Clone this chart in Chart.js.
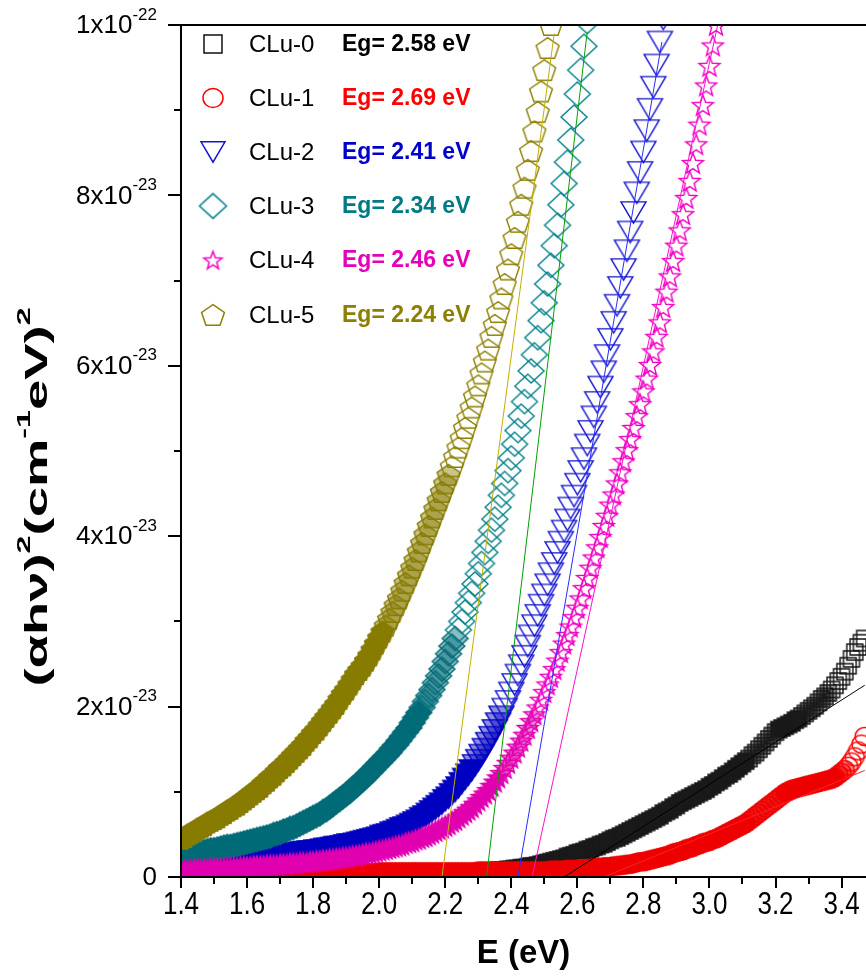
<!DOCTYPE html>
<html>
<head>
<meta charset="utf-8">
<title>Tauc plot</title>
<script src="https://cdn.jsdelivr.net/npm/chart.js@4.4.1/dist/chart.umd.min.js"></script>
<style>
html, body { margin: 0; padding: 0; background: #fff; overflow: hidden; }
#wrap { width: 866px; height: 978px; }
#plot { display: block; }
</style>
</head>
<body>
<div id="wrap"><canvas id="plot" width="866" height="978"></canvas></div>
<script>
// photon energy grid (eV)
var energy = [
  1.40,1.41,1.42,1.43,1.44,1.45,1.46,1.47,1.48,1.49,
  1.50,1.51,1.52,1.53,1.54,1.55,1.56,1.57,1.58,1.59,
  1.60,1.61,1.62,1.63,1.64,1.65,1.66,1.67,1.68,1.69,
  1.70,1.71,1.72,1.73,1.74,1.75,1.76,1.77,1.78,1.79,
  1.80,1.81,1.82,1.83,1.84,1.85,1.86,1.87,1.88,1.89,
  1.90,1.91,1.92,1.93,1.94,1.95,1.96,1.97,1.98,1.99,
  2.00,2.01,2.02,2.03,2.04,2.05,2.06,2.07,2.08,2.09,
  2.10,2.11,2.12,2.13,2.14,2.15,2.16,2.17,2.18,2.19,
  2.20,2.21,2.22,2.23,2.24,2.25,2.26,2.27,2.28,2.29,
  2.30,2.31,2.32,2.33,2.34,2.35,2.36,2.37,2.38,2.39,
  2.40,2.41,2.42,2.43,2.44,2.45,2.46,2.47,2.48,2.49,
  2.50,2.51,2.52,2.53,2.54,2.55,2.56,2.57,2.58,2.59,
  2.60,2.61,2.62,2.63,2.64,2.65,2.66,2.67,2.68,2.69,
  2.70,2.71,2.72,2.73,2.74,2.75,2.76,2.77,2.78,2.79,
  2.80,2.81,2.82,2.83,2.84,2.85,2.86,2.87,2.88,2.89,
  2.90,2.91,2.92,2.93,2.94,2.95,2.96,2.97,2.98,2.99,
  3.00,3.01,3.02,3.03,3.04,3.05,3.06,3.07,3.08,3.09,
  3.10,3.11,3.12,3.13,3.14,3.15,3.16,3.17,3.18,3.19,
  3.20,3.21,3.22,3.23,3.24,3.25,3.26,3.27,3.28,3.29,
  3.30,3.31,3.32,3.33,3.34,3.35,3.36,3.37,3.38,3.39,
  3.40,3.41,3.42,3.43,3.44,3.45,3.46,3.47
];

// (alpha h nu)^2 in units of 1e-23 (cm^-1 eV)^2, one value per energy step
var clu0 = [
  0.03,0.03,0.03,0.03,0.03,0.03,0.03,0.03,0.03,0.03,
  0.03,0.03,0.03,0.03,0.03,0.03,0.03,0.03,0.03,0.03,
  0.03,0.03,0.03,0.03,0.03,0.03,0.03,0.03,0.03,0.03,
  0.04,0.04,0.04,0.04,0.04,0.04,0.04,0.04,0.04,0.04,
  0.04,0.04,0.04,0.04,0.04,0.04,0.04,0.04,0.04,0.04,
  0.04,0.04,0.04,0.04,0.04,0.04,0.04,0.04,0.04,0.04,
  0.04,0.04,0.04,0.04,0.04,0.04,0.04,0.04,0.04,0.04,
  0.05,0.05,0.05,0.05,0.05,0.05,0.05,0.05,0.05,0.05,
  0.05,0.05,0.05,0.05,0.05,0.05,0.05,0.05,0.05,0.05,
  0.06,0.06,0.06,0.07,0.07,0.07,0.08,0.08,0.08,0.09,
  0.09,0.10,0.10,0.11,0.11,0.12,0.13,0.13,0.14,0.15,
  0.16,0.17,0.18,0.19,0.20,0.21,0.22,0.24,0.25,0.26,
  0.28,0.29,0.30,0.32,0.33,0.35,0.36,0.38,0.39,0.41,
  0.43,0.45,0.46,0.48,0.50,0.52,0.54,0.56,0.58,0.60,
  0.62,0.64,0.66,0.68,0.70,0.72,0.75,0.77,0.79,0.82,
  0.84,0.87,0.89,0.91,0.93,0.95,0.97,0.99,1.01,1.03,
  1.06,1.08,1.11,1.13,1.16,1.19,1.21,1.24,1.27,1.30,
  1.33,1.36,1.39,1.43,1.46,1.50,1.54,1.58,1.62,1.66,
  1.70,1.73,1.75,1.77,1.79,1.81,1.84,1.86,1.89,1.92,
  1.95,1.98,2.01,2.05,2.09,2.12,2.16,2.20,2.25,2.30,
  2.35,2.41,2.48,2.56,2.64,2.70,2.75,2.80
];
var clu1 = [
  0.04,0.04,0.04,0.04,0.04,0.04,0.04,0.04,0.04,0.04,
  0.04,0.04,0.04,0.04,0.04,0.04,0.04,0.04,0.04,0.04,
  0.04,0.04,0.04,0.04,0.04,0.04,0.04,0.04,0.04,0.04,
  0.05,0.05,0.05,0.05,0.05,0.05,0.05,0.05,0.05,0.05,
  0.05,0.05,0.05,0.05,0.05,0.05,0.05,0.05,0.05,0.05,
  0.05,0.05,0.05,0.05,0.05,0.05,0.05,0.05,0.05,0.05,
  0.06,0.06,0.06,0.06,0.06,0.06,0.06,0.06,0.06,0.06,
  0.06,0.06,0.06,0.06,0.06,0.06,0.06,0.06,0.06,0.06,
  0.06,0.06,0.06,0.06,0.06,0.06,0.06,0.06,0.06,0.06,
  0.07,0.07,0.07,0.07,0.07,0.07,0.07,0.07,0.07,0.07,
  0.07,0.07,0.07,0.07,0.07,0.07,0.07,0.07,0.07,0.07,
  0.07,0.07,0.08,0.08,0.08,0.08,0.08,0.09,0.09,0.09,
  0.09,0.10,0.10,0.10,0.10,0.11,0.11,0.11,0.12,0.12,
  0.12,0.13,0.13,0.14,0.14,0.15,0.15,0.16,0.17,0.18,
  0.18,0.19,0.20,0.21,0.22,0.23,0.24,0.25,0.26,0.28,
  0.29,0.30,0.31,0.33,0.34,0.35,0.37,0.38,0.40,0.41,
  0.42,0.44,0.45,0.47,0.49,0.51,0.53,0.55,0.57,0.59,
  0.61,0.63,0.66,0.69,0.72,0.75,0.78,0.81,0.84,0.87,
  0.90,0.93,0.96,0.99,1.01,1.03,1.04,1.05,1.06,1.07,
  1.08,1.09,1.10,1.11,1.12,1.13,1.14,1.15,1.17,1.20,
  1.23,1.26,1.30,1.35,1.41,1.48,1.56,1.65
];
var clu2 = [
  0.17,0.17,0.17,0.18,0.18,0.18,0.18,0.18,0.19,0.19,
  0.19,0.19,0.20,0.20,0.20,0.20,0.21,0.21,0.21,0.22,
  0.22,0.22,0.23,0.23,0.23,0.24,0.24,0.24,0.25,0.25,
  0.26,0.26,0.26,0.27,0.27,0.28,0.28,0.29,0.29,0.30,
  0.30,0.31,0.31,0.32,0.33,0.33,0.34,0.35,0.35,0.36,
  0.37,0.38,0.38,0.39,0.40,0.41,0.42,0.43,0.44,0.45,
  0.46,0.48,0.49,0.50,0.52,0.53,0.55,0.57,0.58,0.60,
  0.62,0.64,0.66,0.69,0.71,0.74,0.77,0.80,0.83,0.86,
  0.90,0.93,0.97,1.01,1.05,1.10,1.15,1.20,1.25,1.31,
  1.37,1.43,1.50,1.57,1.64,1.72,1.80,1.88,1.97,2.06,
  2.16,2.26,2.37,2.48,2.59,2.71,2.83,2.95,3.07,3.19,
  3.31,3.43,3.56,3.68,3.81,3.93,4.06,4.19,4.33,4.47,
  4.61,4.76,4.91,5.07,5.23,5.40,5.57,5.75,5.93,6.12,
  6.31,6.51,6.71,6.92,7.13,7.35,7.57,7.80,8.03,8.27,
  8.51,8.76,9.01,9.27,9.53,9.80,10.07
];
var clu3 = [
  0.26,0.27,0.27,0.28,0.28,0.29,0.30,0.30,0.31,0.32,
  0.32,0.33,0.34,0.35,0.36,0.36,0.37,0.38,0.39,0.40,
  0.41,0.42,0.43,0.44,0.45,0.46,0.47,0.48,0.50,0.51,
  0.52,0.54,0.55,0.57,0.58,0.60,0.62,0.64,0.66,0.68,
  0.70,0.72,0.74,0.77,0.79,0.82,0.85,0.88,0.91,0.94,
  0.97,1.00,1.04,1.07,1.11,1.14,1.18,1.22,1.26,1.30,
  1.34,1.38,1.42,1.46,1.51,1.55,1.60,1.65,1.70,1.75,
  1.81,1.87,1.93,1.99,2.06,2.13,2.20,2.28,2.36,2.44,
  2.53,2.62,2.71,2.80,2.90,3.00,3.11,3.22,3.33,3.44,
  3.56,3.68,3.81,3.94,4.07,4.20,4.34,4.48,4.62,4.77,
  4.92,5.08,5.24,5.41,5.58,5.76,5.94,6.13,6.33,6.53,
  6.74,6.96,7.18,7.41,7.65,7.89,8.14,8.39,8.65,8.92,
  9.19,9.47,9.75,10.04,10.33
];
var clu4 = [
  0.08,0.08,0.08,0.08,0.09,0.09,0.09,0.09,0.09,0.10,
  0.10,0.10,0.10,0.10,0.11,0.11,0.11,0.11,0.12,0.12,
  0.12,0.12,0.13,0.13,0.13,0.13,0.14,0.14,0.14,0.14,
  0.15,0.15,0.15,0.16,0.16,0.16,0.17,0.17,0.17,0.18,
  0.18,0.19,0.19,0.20,0.20,0.21,0.21,0.22,0.22,0.23,
  0.23,0.24,0.25,0.25,0.26,0.27,0.28,0.28,0.29,0.30,
  0.31,0.32,0.33,0.34,0.35,0.36,0.37,0.38,0.40,0.41,
  0.42,0.44,0.45,0.47,0.48,0.50,0.52,0.54,0.56,0.58,
  0.60,0.62,0.65,0.67,0.70,0.73,0.76,0.79,0.82,0.86,
  0.90,0.94,0.98,1.02,1.07,1.12,1.17,1.22,1.28,1.34,
  1.40,1.46,1.53,1.60,1.67,1.75,1.83,1.91,1.99,2.08,
  2.17,2.26,2.35,2.44,2.54,2.64,2.74,2.84,2.94,3.05,
  3.16,3.27,3.39,3.51,3.63,3.75,3.87,3.99,4.12,4.24,
  4.37,4.49,4.62,4.75,4.88,5.01,5.14,5.27,5.41,5.55,
  5.70,5.85,6.01,6.17,6.34,6.51,6.69,6.87,7.05,7.23,
  7.41,7.59,7.78,7.97,8.17,8.38,8.60,8.83,9.06,9.29,
  9.52,9.76,10.00,10.24
];
var clu5 = [
  0.45,0.47,0.50,0.52,0.54,0.57,0.59,0.61,0.64,0.66,
  0.68,0.70,0.73,0.75,0.78,0.80,0.83,0.85,0.88,0.91,
  0.94,0.97,1.00,1.03,1.06,1.10,1.13,1.17,1.20,1.24,
  1.28,1.31,1.35,1.39,1.43,1.47,1.51,1.55,1.60,1.64,
  1.69,1.73,1.78,1.83,1.88,1.93,1.98,2.03,2.09,2.15,
  2.20,2.26,2.32,2.38,2.43,2.48,2.54,2.60,2.67,2.74,
  2.81,2.88,2.95,3.03,3.11,3.19,3.27,3.36,3.45,3.54,
  3.63,3.72,3.82,3.92,4.02,4.12,4.22,4.32,4.42,4.52,
  4.62,4.72,4.82,4.93,5.04,5.15,5.27,5.39,5.51,5.64,
  5.77,5.91,6.05,6.19,6.34,6.48,6.63,6.79,6.96,7.13,
  7.31,7.50,7.69,7.89,8.09,8.30,8.52,8.75,8.98,9.22,
  9.47,9.73,10.00,10.28
];
var UNIT = 1e-23;

var seriesNames = ['CLu-0', 'CLu-1', 'CLu-2', 'CLu-3', 'CLu-4', 'CLu-5'];
var gapLabels = ['Eg= 2.58 eV', 'Eg= 2.69 eV', 'Eg= 2.41 eV', 'Eg= 2.34 eV', 'Eg= 2.46 eV', 'Eg= 2.24 eV'];

// linear fits: start on the energy axis, end point (E, value in 1e-23)
var fitStartE = [2.56, 2.68, 2.42, 2.325, 2.463, 2.19];
var fitEndE = [3.47, 3.47, 2.856, 2.63, 3.025, 2.53];
var fitEndV = [2.25, 1.25, 9.8, 9.92, 10.0, 9.9];

var xMajor = [1.4, 1.6, 1.8, 2.0, 2.2, 2.4, 2.6, 2.8, 3.0, 3.2, 3.4];
var xMinor = [1.5, 1.7, 1.9, 2.1, 2.3, 2.5, 2.7, 2.9, 3.1, 3.3];
var yMajor = [0, 2, 4, 6, 8, 10];
var yMinor = [1, 3, 5, 7, 9];
var yMant = ['0', '2x10', '4x10', '6x10', '8x10', '1x10'];
var yExp = ['', '-23', '-23', '-23', '-23', '-22'];

var markColors = ['#111111', '#ff0000', '#1414d2', '#00808a', '#f000c4', '#8c8000'];
var denseColors = ['#1a1a1a', '#ee0000', '#0000c0', '#006c78', '#e000b0', '#877c00'];
var textColors = ['#000000', '#ff0000', '#0000cc', '#007a84', '#e600b8', '#8c8000'];
var fitColors = ['#000000', '#ff2020', '#2a2aff', '#00a000', '#ff10cc', '#c2ae00'];
var shapes = ['square', 'circle', 'triangle', 'diamond', 'star', 'pentagon'];
var dataSize = [16, 19, 25, 26, 22, 24];
var legendSize = [18, 20, 24, 27, 19, 24];

var FONT = '"Liberation Sans", Arial, sans-serif';

function makeMarker(shape, size, color, lw, fillAlpha) {
  var s = Math.ceil(size + 4);
  var c = document.createElement('canvas');
  c.width = s; c.height = s;
  var g = c.getContext('2d');
  var cx = s / 2, cy = s / 2, r = size / 2, i, a;
  g.strokeStyle = color;
  g.fillStyle = color;
  g.lineWidth = lw;
  g.lineJoin = 'miter';
  g.beginPath();
  if (shape === 'square') {
    g.rect(cx - r, cy - r, size, size);
  } else if (shape === 'circle') {
    g.ellipse(cx, cy, r, r * 0.95, 0, 0, Math.PI * 2);
  } else if (shape === 'triangle') {
    var h = size * 0.85;
    g.moveTo(cx - r, cy - h / 2);
    g.lineTo(cx + r, cy - h / 2);
    g.lineTo(cx, cy + h / 2);
    g.closePath();
  } else if (shape === 'diamond') {
    g.moveTo(cx, cy - r * 0.92);
    g.lineTo(cx + r, cy);
    g.lineTo(cx, cy + r * 0.92);
    g.lineTo(cx - r, cy);
    g.closePath();
  } else if (shape === 'star') {
    for (i = 0; i < 10; i++) {
      a = -Math.PI / 2 + i * Math.PI / 5;
      var rr = i % 2 === 0 ? r : r * 0.42;
      if (i === 0) g.moveTo(cx + rr * Math.cos(a), cy + 1 + rr * Math.sin(a));
      else g.lineTo(cx + rr * Math.cos(a), cy + 1 + rr * Math.sin(a));
    }
    g.closePath();
  } else if (shape === 'pentagon') {
    for (i = 0; i < 5; i++) {
      a = -Math.PI / 2 + i * 2 * Math.PI / 5;
      if (i === 0) g.moveTo(cx + r * Math.cos(a), cy + 1 + r * Math.sin(a) * 0.95);
      else g.lineTo(cx + r * Math.cos(a), cy + 1 + r * Math.sin(a) * 0.95);
    }
    g.closePath();
  }
  if (fillAlpha) {
    g.globalAlpha = fillAlpha;
    g.fill();
    g.globalAlpha = 1;
  }
  g.stroke();
  return c;
}

var seriesValues = [clu0, clu1, clu2, clu3, clu4, clu5];
var datasets = [];

// the measured data is much denser where the curve is flat, so markers there merge into a solid band
function markerStyle(k, hollow, half, solid) {
  return function(c) {
    var vals = seriesValues[k];
    var i = c.dataIndex;
    var lo = Math.max(i - 1, 0), hi = Math.min(i + 1, vals.length - 1);
    var slope = Math.abs(vals[hi] - vals[lo]) / (energy[hi] - energy[lo]);
    var ys = c.chart.scales.y;
    var pxPerUnit = Math.abs(ys.getPixelForValue(0) - ys.getPixelForValue(UNIT));
    var e = energy[i];
    var stepPx = slope * (e * e / 1240) * pxPerUnit;
    if (stepPx < 2.0) return solid;
    if (stepPx < 3.4) return half;
    return hollow;
  };
}

seriesValues.forEach(function(vals, k) {
  var hollow = makeMarker(shapes[k], dataSize[k], markColors[k], 1.4, 0);
  var half = makeMarker(shapes[k], dataSize[k], denseColors[k], 1.4, 0.45);
  var solid = makeMarker(shapes[k], dataSize[k], denseColors[k], 1.4, 1);
  datasets.push({
    label: seriesNames[k],
    data: vals.map(function(v, i) { return { x: energy[i], y: v * UNIT }; }),
    pointStyle: markerStyle(k, hollow, half, solid),
    pointRadius: dataSize[k] / 2,
    showLine: false,
    clip: 0,
    order: 10 - k
  });
});

seriesValues.forEach(function(vals, k) {
  datasets.push({
    label: seriesNames[k] + ' fit',
    data: [{ x: fitStartE[k], y: 0 }, { x: fitEndE[k], y: fitEndV[k] * UNIT }],
    showLine: true,
    borderColor: fitColors[k],
    borderWidth: 1,
    pointRadius: 0,
    fill: false,
    clip: 0,
    order: 0
  });
});

function drawRich(ctx, parts, x, y, align, font, supFont, rise) {
  var w = 0;
  parts.forEach(function(p) {
    ctx.font = p.sup ? supFont : font;
    w += ctx.measureText(p.t).width;
  });
  var cx = align === 'right' ? x - w : (align === 'center' ? x - w / 2 : x);
  ctx.textAlign = 'left';
  ctx.textBaseline = 'middle';
  parts.forEach(function(p) {
    ctx.font = p.sup ? supFont : font;
    ctx.fillText(p.t, cx, p.sup ? y - rise : y);
    cx += ctx.measureText(p.t).width;
  });
}

var framePlugin = {
  id: 'frame',
  afterDraw: function(chart) {
    var ctx = chart.ctx;
    var a = chart.chartArea;
    var xs = chart.scales.x, ys = chart.scales.y;
    ctx.save();
    ctx.strokeStyle = '#000';
    ctx.fillStyle = '#000';
    ctx.lineWidth = 2;
    ctx.beginPath();
    ctx.moveTo(a.left, a.top);
    ctx.lineTo(a.right, a.top);
    ctx.moveTo(a.left, a.top - 1);
    ctx.lineTo(a.left, a.bottom + 1);
    ctx.moveTo(a.left - 1, a.bottom);
    ctx.lineTo(a.right, a.bottom);
    ctx.stroke();

    // ticks
    ctx.beginPath();
    xMajor.forEach(function(v) {
      var px = Math.round(xs.getPixelForValue(v));
      ctx.moveTo(px, a.bottom); ctx.lineTo(px, a.bottom + 11);
    });
    xMinor.forEach(function(v) {
      var px = Math.round(xs.getPixelForValue(v));
      ctx.moveTo(px, a.bottom); ctx.lineTo(px, a.bottom + 7);
    });
    yMajor.forEach(function(v) {
      var py = Math.round(ys.getPixelForValue(v * UNIT));
      ctx.moveTo(a.left, py); ctx.lineTo(a.left - 13, py);
    });
    yMinor.forEach(function(v) {
      var py = Math.round(ys.getPixelForValue(v * UNIT));
      ctx.moveTo(a.left, py); ctx.lineTo(a.left - 7, py);
    });
    ctx.stroke();

    // x tick labels (slightly tall, as in the source figure)
    ctx.font = '26px ' + FONT;
    ctx.textAlign = 'center';
    ctx.textBaseline = 'middle';
    xMajor.forEach(function(v) {
      ctx.save();
      ctx.translate(xs.getPixelForValue(v), a.bottom + 29);
      ctx.scale(1, 1.18);
      ctx.fillText(v.toFixed(1), 0, 0);
      ctx.restore();
    });

    // y tick labels with superscript exponents
    yMajor.forEach(function(v, i) {
      var py = ys.getPixelForValue(v * UNIT);
      var parts = [{ t: yMant[i] }];
      if (yExp[i]) parts.push({ t: yExp[i], sup: true });
      drawRich(ctx, parts, a.left - 24, py + 1, 'right', '26px ' + FONT, '17px ' + FONT, 11);
    });

    // axis titles
    ctx.font = 'bold 33px ' + FONT;
    ctx.textAlign = 'center';
    ctx.textBaseline = 'middle';
    ctx.fillText('E (eV)', (a.left + a.right) / 2, 954);

    ctx.save();
    ctx.translate(38, 497);
    ctx.rotate(-Math.PI / 2);
    ctx.scale(1.7, 1);
    drawRich(ctx, [
      { t: '(\u03b1h\u03bd)' }, { t: '2', sup: true },
      { t: '(cm' }, { t: '-1', sup: true },
      { t: 'eV)' }, { t: '2', sup: true }
    ], 0, 0, 'center', 'bold 32px ' + FONT, 'bold 19px ' + FONT, 13);
    ctx.restore();

    // legend
    var rowY = [44, 98, 152, 206, 260, 315];
    seriesNames.forEach(function(name, k) {
      var img = makeMarker(shapes[k], legendSize[k], markColors[k], 1.5, 0);
      ctx.drawImage(img, 213 - img.width / 2, rowY[k] - img.height / 2);
      ctx.fillStyle = '#000';
      ctx.font = '24px ' + FONT;
      ctx.textAlign = 'left';
      ctx.textBaseline = 'middle';
      ctx.fillText(name, 249, rowY[k] + 1);
      ctx.fillStyle = textColors[k];
      ctx.font = 'bold 23px ' + FONT;
      ctx.fillText(gapLabels[k], 342, rowY[k] + 1);
    });
    ctx.restore();
  }
};

var taucChart = new Chart(document.getElementById('plot').getContext('2d'), {
  type: 'scatter',
  data: { datasets: datasets },
  options: {
    responsive: false,
    animation: false,
    devicePixelRatio: 1,
    events: [],
    layout: { autoPadding: false, padding: { left: 181, top: 25, right: 0, bottom: 101 } },
    plugins: {
      legend: { display: false },
      tooltip: { enabled: false }
    },
    scales: {
      x: { type: 'linear', min: 1.4, max: 3.474, display: false },
      y: { type: 'linear', min: 0, max: 1e-22, display: false }
    }
  },
  plugins: [framePlugin]
});
</script>
</body>
</html>
